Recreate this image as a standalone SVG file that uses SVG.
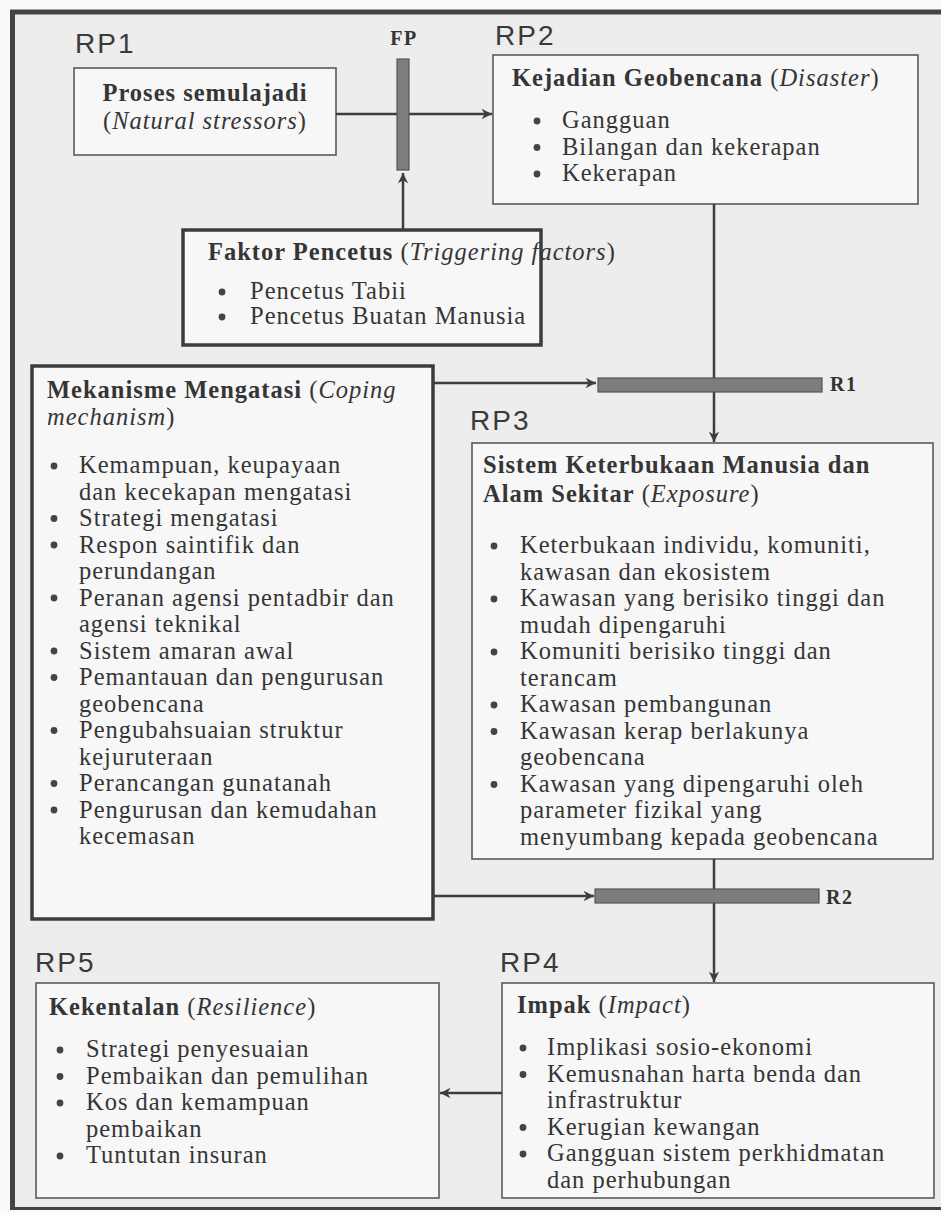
<svg xmlns="http://www.w3.org/2000/svg" width="941" height="1213" viewBox="0 0 941 1213">
<defs>
<style>
.t{font-family:"Liberation Serif","Times New Roman",serif;font-size:24.5px;fill:#353535;letter-spacing:1px}
.b{font-weight:bold}
.i{font-style:italic}
.rp{font-family:"Liberation Sans",Arial,sans-serif;font-size:28px;fill:#3a3a3a;letter-spacing:2px}
.lbl{font-family:"Liberation Serif","Times New Roman",serif;font-weight:bold;font-size:20px;fill:#333;letter-spacing:1.5px}
.box{fill:#f7f7f7;stroke:#5a5a5a;stroke-width:1.6}
.tbox{fill:#f7f7f7;stroke:#3c3c3c;stroke-width:3.5}
.bar{fill:#7d7d7d;stroke:#555;stroke-width:1.2}
.con{stroke:#3e3e3e;stroke-width:2.5;fill:none;marker-end:url(#ah)}
.dot{fill:#444}
</style>
<marker id="ah" viewBox="0 0 10 10" refX="10" refY="5" markerWidth="4.6" markerHeight="4.2" orient="auto" markerUnits="strokeWidth">
<path d="M0,0 L10,5 L0,10 L3,5 z" fill="#3e3e3e"/>
</marker>
</defs>
<rect x="0" y="0" width="941" height="1213" fill="#fafafa"/>
<rect x="12" y="12" width="935" height="1196" fill="#ededed"/>
<g id="frame" stroke="#444" fill="none">
<line x1="10" y1="12" x2="941" y2="12" stroke-width="5"/>
<line x1="12.5" y1="10" x2="12.5" y2="1210" stroke-width="5"/>
<line x1="10" y1="1208.5" x2="941" y2="1208.5" stroke-width="3"/>
</g>

<g id="rp1">
<text class="rp" x="75" y="53">RP1</text>
<rect class="box" x="74" y="68" width="262" height="87"/>
<text class="t b" x="205" y="101" text-anchor="middle">Proses semulajadi</text>
<text class="t" x="205" y="129" text-anchor="middle">(<tspan class="i">Natural stressors</tspan>)</text>
</g>

<g id="rp2">
<text class="rp" x="495" y="45">RP2</text>
<rect class="box" x="493" y="55" width="425" height="149"/>
<text class="t" x="512" y="86"><tspan class="b">Kejadian Geobencana</tspan> (<tspan class="i">Disaster</tspan>)</text>
<circle class="dot" cx="537" cy="121" r="3.4"/>
<circle class="dot" cx="537" cy="147.5" r="3.4"/>
<circle class="dot" cx="537" cy="174" r="3.4"/>
<text class="t" x="562" y="128">Gangguan</text>
<text class="t" x="562" y="154.5">Bilangan dan kekerapan</text>
<text class="t" x="562" y="181">Kekerapan</text>
</g>

<g id="faktor">
<rect class="tbox" x="183" y="230" width="358" height="115"/>
<text class="t" x="208" y="260"><tspan class="b">Faktor Pencetus</tspan> (<tspan class="i">Triggering factors</tspan>)</text>
<circle class="dot" cx="222" cy="292" r="3.4"/>
<circle class="dot" cx="222" cy="317" r="3.4"/>
<text class="t" x="250" y="299">Pencetus Tabii</text>
<text class="t" x="250" y="324">Pencetus Buatan Manusia</text>
</g>

<g id="mekanisme">
<rect class="tbox" x="32" y="366" width="401" height="553"/>
<text class="t" x="47" y="398"><tspan class="b">Mekanisme Mengatasi</tspan> (<tspan class="i">Coping</tspan></text>
<text class="t" x="47" y="425"><tspan class="i">mechanism</tspan>)</text>
<g class="dot">
<circle cx="54" cy="466" r="3.4"/>
<circle cx="54" cy="518.5" r="3.4"/>
<circle cx="54" cy="545" r="3.4"/>
<circle cx="54" cy="598" r="3.4"/>
<circle cx="54" cy="651" r="3.4"/>
<circle cx="54" cy="677.5" r="3.4"/>
<circle cx="54" cy="730.5" r="3.4"/>
<circle cx="54" cy="783.5" r="3.4"/>
<circle cx="54" cy="810" r="3.4"/>
</g>
<text class="t" x="79" y="473">Kemampuan, keupayaan</text>
<text class="t" x="79" y="499.5">dan kecekapan mengatasi</text>
<text class="t" x="79" y="526">Strategi mengatasi</text>
<text class="t" x="79" y="552.5">Respon saintifik dan</text>
<text class="t" x="79" y="579">perundangan</text>
<text class="t" x="79" y="605.5">Peranan agensi pentadbir dan</text>
<text class="t" x="79" y="632">agensi teknikal</text>
<text class="t" x="79" y="658.5">Sistem amaran awal</text>
<text class="t" x="79" y="685">Pemantauan dan pengurusan</text>
<text class="t" x="79" y="711.5">geobencana</text>
<text class="t" x="79" y="738">Pengubahsuaian struktur</text>
<text class="t" x="79" y="764.5">kejuruteraan</text>
<text class="t" x="79" y="791">Perancangan gunatanah</text>
<text class="t" x="79" y="817.5">Pengurusan dan kemudahan</text>
<text class="t" x="79" y="844">kecemasan</text>
</g>

<g id="rp3">
<text class="rp" x="470" y="430">RP3</text>
<rect class="box" x="472" y="443" width="461" height="416"/>
<text class="t b" x="483" y="473">Sistem Keterbukaan Manusia dan</text>
<text class="t" x="483" y="502"><tspan class="b">Alam Sekitar</tspan> (<tspan class="i">Exposure</tspan>)</text>
<g class="dot">
<circle cx="494" cy="546" r="3.4"/>
<circle cx="494" cy="599" r="3.4"/>
<circle cx="494" cy="652" r="3.4"/>
<circle cx="494" cy="705" r="3.4"/>
<circle cx="494" cy="731.5" r="3.4"/>
<circle cx="494" cy="784.5" r="3.4"/>
</g>
<text class="t" x="520" y="553">Keterbukaan individu, komuniti,</text>
<text class="t" x="520" y="579.5">kawasan dan ekosistem</text>
<text class="t" x="520" y="606">Kawasan yang berisiko tinggi dan</text>
<text class="t" x="520" y="632.5">mudah dipengaruhi</text>
<text class="t" x="520" y="659">Komuniti berisiko tinggi dan</text>
<text class="t" x="520" y="685.5">terancam</text>
<text class="t" x="520" y="712">Kawasan pembangunan</text>
<text class="t" x="520" y="738.5">Kawasan kerap berlakunya</text>
<text class="t" x="520" y="765">geobencana</text>
<text class="t" x="520" y="791.5">Kawasan yang dipengaruhi oleh</text>
<text class="t" x="520" y="818">parameter fizikal yang</text>
<text class="t" x="520" y="844.5">menyumbang kepada geobencana</text>
</g>

<g id="rp4">
<text class="rp" x="500" y="972">RP4</text>
<rect class="box" x="502" y="983" width="432" height="215"/>
<text class="t" x="517" y="1013"><tspan class="b">Impak</tspan> (<tspan class="i">Impact</tspan>)</text>
<g class="dot">
<circle cx="523" cy="1048" r="3.4"/>
<circle cx="523" cy="1074.5" r="3.4"/>
<circle cx="523" cy="1127.5" r="3.4"/>
<circle cx="523" cy="1154" r="3.4"/>
</g>
<text class="t" x="547" y="1055">Implikasi sosio-ekonomi</text>
<text class="t" x="547" y="1081.5">Kemusnahan harta benda dan</text>
<text class="t" x="547" y="1108">infrastruktur</text>
<text class="t" x="547" y="1134.5">Kerugian kewangan</text>
<text class="t" x="547" y="1161">Gangguan sistem perkhidmatan</text>
<text class="t" x="547" y="1187.5">dan perhubungan</text>
</g>

<g id="rp5">
<text class="rp" x="35" y="972">RP5</text>
<rect class="box" x="36" y="983" width="403" height="215"/>
<text class="t" x="49" y="1015"><tspan class="b">Kekentalan</tspan> (<tspan class="i">Resilience</tspan>)</text>
<g class="dot">
<circle cx="60" cy="1050" r="3.4"/>
<circle cx="60" cy="1076.5" r="3.4"/>
<circle cx="60" cy="1103" r="3.4"/>
<circle cx="60" cy="1156" r="3.4"/>
</g>
<text class="t" x="86" y="1057">Strategi penyesuaian</text>
<text class="t" x="86" y="1083.5">Pembaikan dan pemulihan</text>
<text class="t" x="86" y="1110">Kos dan kemampuan</text>
<text class="t" x="86" y="1136.5">pembaikan</text>
<text class="t" x="86" y="1163">Tuntutan insuran</text>
</g>

<g id="connectors">
<path class="con" d="M336,114 H492"/>
<path class="con" d="M403,229 V173"/>
<path class="con" d="M714,204 V442"/>
<path class="con" d="M433,383 H596"/>
<path class="con" d="M714,859 V982"/>
<path class="con" d="M433,896 H594"/>
<path class="con" d="M502,1093 H440"/>
</g>

<g id="fp">
<rect class="bar" x="397" y="59" width="12" height="111"/>
<text class="lbl" x="404" y="45" text-anchor="middle">FP</text>
</g>
<g id="r1">
<rect class="bar" x="598" y="378" width="224" height="14"/>
<text class="lbl" x="830" y="391">R1</text>
</g>
<g id="r2">
<rect class="bar" x="595" y="889" width="224" height="14"/>
<text class="lbl" x="826" y="904">R2</text>
</g>
</svg>
